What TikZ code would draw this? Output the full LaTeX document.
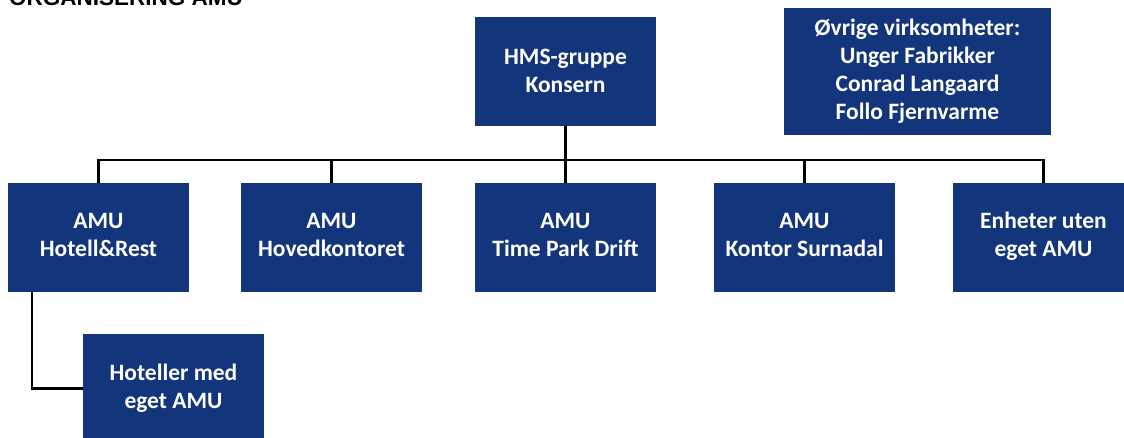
\documentclass[tikz,border=0pt]{standalone}
\usepackage{fontspec}
\setmainfont{Carlito}
\newfontfamily\titlefont{Liberation Sans}
\definecolor{navy}{RGB}{19,53,123}
\begin{document}
\begin{tikzpicture}[x=1pt,y=-1pt,
  box/.style={draw=none,fill=navy,text=white,minimum width=181pt,minimum height=109pt,
    inner sep=0pt,align=center,font=\fontsize{23.5}{28}\selectfont\bfseries},
  rowbox/.style={box,inner ysep=0pt,text depth=6pt},
  conn/.style={line width=2.5pt,black}]
\useasboundingbox (0,0) rectangle (1124,437);
\clip (0,0) rectangle (1124,437);
\node[anchor=base west,inner sep=0pt,font=\fontsize{22.5}{26}\selectfont\titlefont\bfseries] (title) at (9,5) {ORGANISERING AMU};
\node[box] (hms) at (565.5,71) {HMS-gruppe\\Konsern};
\node[box,minimum width=267pt,minimum height=127pt] (ovr) at (917.5,71.5) {Øvrige virksomheter:\\Unger Fabrikker\\Conrad Langaard\\Follo Fjernvarme};
\node[rowbox] (hr) at (98.5,237.5) {AMU\\Hotell\&Rest};
\node[rowbox] (hk) at (331.5,237.5) {AMU\\Hovedkontoret};
\node[rowbox] (tp) at (565.5,237.5) {AMU\\Time Park Drift};
\node[rowbox] (ks) at (804.5,237.5) {AMU\\Kontor Surnadal};
\node[rowbox] (en) at (1043.5,237.5) {Enheter uten\\eget AMU};
\node[box] (hot) at (173.5,388.5) {Hoteller med\\eget AMU};
\coordinate (busL) at (98.5,160);
\coordinate (busR) at (1043.5,160);
\coordinate (hl) at (32,292);
\draw[conn] (hr.north) -- (busL) -- (busR) -- (en.north);
\draw[conn] (hms.south) -- (tp.north);
\draw[conn] (hk.north) -- (hk.north |- busL);
\draw[conn] (ks.north) -- (ks.north |- busL);
\draw[conn] (hl) |- (hot.west);
\end{tikzpicture}
\end{document}
